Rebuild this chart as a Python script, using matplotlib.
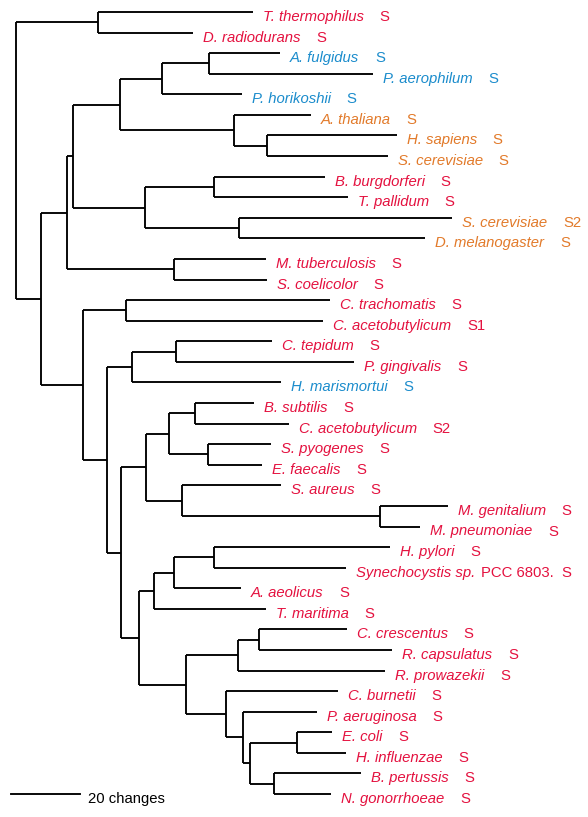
import matplotlib
matplotlib.use('Agg')
import matplotlib.pyplot as plt

# Tips, top to bottom
tip_names = ["T. thermophilus", "D. radiodurans", "A. fulgidus", "P. aerophilum",
             "P. horikoshii", "A. thaliana", "H. sapiens", "S. cerevisiae",
             "B. burgdorferi", "T. pallidum", "S. cerevisiae", "D. melanogaster",
             "M. tuberculosis", "S. coelicolor", "C. trachomatis", "C. acetobutylicum",
             "C. tepidum", "P. gingivalis", "H. marismortui", "B. subtilis",
             "C. acetobutylicum", "S. pyogenes", "E. faecalis", "S. aureus",
             "M. genitalium", "M. pneumoniae", "H. pylori", "Synechocystis sp.",
             "A. aeolicus", "T. maritima", "C. crescentus", "R. capsulatus",
             "R. prowazekii", "C. burnetii", "P. aeruginosa", "E. coli",
             "H. influenzae", "B. pertussis", "N. gonorrhoeae"]
tip_extra = {"Synechocystis sp.": "PCC 6803."}
tip_tags = ["S", "S", "S", "S", "S", "S", "S", "S", "S", "S", "S2", "S", "S", "S",
            "S", "S1", "S", "S", "S", "S", "S2", "S", "S", "S", "S", "S", "S", "S",
            "S", "S", "S", "S", "S", "S", "S", "S", "S", "S", "S"]
tip_group = ["bac", "bac", "arc", "arc", "arc", "euk", "euk", "euk", "bac", "bac",
             "euk", "euk", "bac", "bac", "bac", "bac", "bac", "bac", "arc", "bac",
             "bac", "bac", "bac", "bac", "bac", "bac", "bac", "bac", "bac", "bac",
             "bac", "bac", "bac", "bac", "bac", "bac", "bac", "bac", "bac"]

# Tree edges: (parent, child, branch length in changes); tips are given by index
edges = [
    ("root", "nTD", 23.8), ("root", "nA", 7.2),
    ("nTD", 0, 44.9), ("nTD", 1, 27.5),
    ("nA", "nB", 7.6), ("nA", "nM", 12.2),
    ("nB", "nC", 1.7), ("nB", "nL", 31.0),
    ("nC", "nD", 13.6), ("nC", "nI", 20.9),
    ("nD", "nE", 12.2), ("nD", "nG", 33.1),
    ("nE", "nF", 13.6), ("nE", 4, 23.2),
    ("nF", 2, 20.6), ("nF", 3, 47.6),
    ("nG", 5, 22.3), ("nG", "nH", 9.6),
    ("nH", 6, 37.6), ("nH", 7, 35.0),
    ("nI", "nJ", 20.0), ("nI", "nK", 27.2),
    ("nJ", 8, 32.2), ("nJ", 9, 38.8),
    ("nK", 10, 61.8), ("nK", 11, 54.0),
    ("nL", 12, 26.7), ("nL", 13, 27.0),
    ("nM", "nN", 12.5), ("nM", "nO", 7.0),
    ("nN", 14, 59.1), ("nN", 15, 57.1),
    ("nO", "nP", 7.2), ("nO", "nR", 4.0),
    ("nP", "nQ", 12.8), ("nP", 18, 43.2),
    ("nQ", 16, 27.8), ("nQ", 17, 51.6),
    ("nR", "nS", 7.3), ("nR", "nY", 5.3),
    ("nS", "nT", 6.6), ("nS", "nW", 10.4),
    ("nT", "nU", 7.6), ("nT", "nV", 11.4),
    ("nU", 19, 17.1), ("nU", 20, 27.2),
    ("nV", 21, 18.2), ("nV", 22, 15.6),
    ("nW", 23, 28.7), ("nW", "nX", 57.4),
    ("nX", 24, 19.7), ("nX", 25, 11.6),
    ("nY", "nZ", 4.3), ("nY", "nAC", 13.6),
    ("nZ", "nAA", 5.8), ("nZ", 29, 32.5),
    ("nAA", "nAB", 11.6), ("nAA", 28, 19.4),
    ("nAB", 26, 51.0), ("nAB", 27, 38.3),
    ("nAC", "nAD", 15.0), ("nAC", "nAF", 11.6),
    ("nAD", "nAE", 6.1), ("nAD", 32, 42.7),
    ("nAE", 30, 25.5), ("nAE", 31, 38.6),
    ("nAF", 33, 32.4), ("nAF", "nAG", 4.9),
    ("nAG", 34, 21.4), ("nAG", "nAH", 2.0),
    ("nAH", "nAI", 13.6), ("nAH", "nAJ", 7.0),
    ("nAI", 35, 10.2), ("nAI", 36, 14.3),
    ("nAJ", 37, 25.2), ("nAJ", 38, 16.5),
]
scale_len = 20

colors = {"bac": "#e4113f", "arc": "#1b8ccc", "euk": "#e27a2a"}

children = {}
for p, c, l in edges:
    children.setdefault(p, []).append((c, l))

xpos, ypos = {}, {}


def place(node, x):
    xpos[node] = x
    if isinstance(node, int):
        ypos[node] = node
        return
    for c, l in children[node]:
        place(c, x + l)
    ys = [ypos[c] for c, _ in children[node]]
    ypos[node] = (min(ys) + max(ys)) / 2


place("root", 0.0)

fig = plt.figure(figsize=(5.88, 8.17), dpi=100)
ax = fig.add_axes([0, 0, 1, 1])
ax.set_xlim(-16 / 3.45, 572 / 3.45)
ax.set_ylim(805 / 20.58, -12 / 20.58)
ax.axis('off')

lw = 1.35
for p, kids in children.items():
    ys = [ypos[c] for c, _ in kids]
    ax.plot([xpos[p], xpos[p]], [min(ys), max(ys)], color='black', lw=lw,
            solid_capstyle='butt')
    for c, _ in kids:
        ax.plot([xpos[p], xpos[c]], [ypos[c], ypos[c]], color='black', lw=lw,
                solid_capstyle='butt')

fs = 10.7
for i, name in enumerate(tip_names):
    col = colors[tip_group[i]]
    t = ax.annotate(name, xy=(xpos[i], ypos[i]), xytext=(7, -3.6),
                    textcoords='offset points', va='center', ha='left',
                    fontsize=fs, style='italic', color=col,
                    family='Liberation Sans')
    if name in tip_extra:
        t = ax.annotate(tip_extra[name], xy=(1, 0.5), xycoords=t, xytext=(4, 0),
                        textcoords='offset points', va='center', ha='left',
                        fontsize=fs, color=col, family='Liberation Sans')
        gap = 6
    else:
        gap = 11.5
    ax.annotate(tip_tags[i], xy=(1, 0.5), xycoords=t, xytext=(gap, 0),
                textcoords='offset points', va='center', ha='left',
                fontsize=fs, color=col, family='Liberation Sans')

# scale bar
sb_x0 = -5 / 3.45
sb_y = len(tip_names) - 1
ax.plot([sb_x0, sb_x0 + scale_len], [sb_y, sb_y], color='black', lw=lw)
ax.annotate(f"{scale_len} changes", xy=(sb_x0 + scale_len, sb_y), xytext=(6, -3.5),
            textcoords='offset points', va='center', ha='left', fontsize=fs,
            color='black', family='Liberation Sans')

fig.savefig('out.png', dpi=100)
